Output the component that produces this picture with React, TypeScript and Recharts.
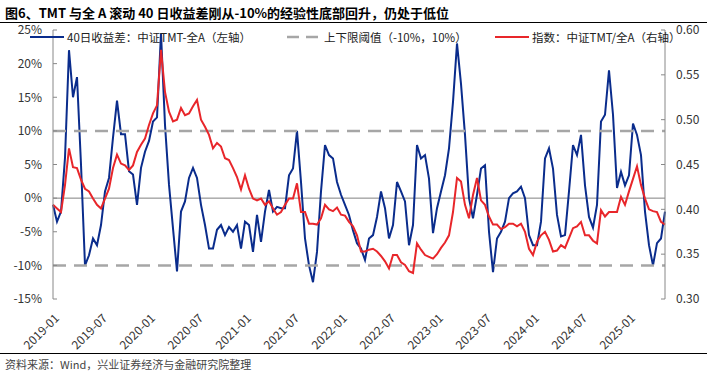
import { Line, LineChart, ReferenceLine, XAxis, YAxis } from 'recharts'

// semi-monthly points, Jan 2019 .. May 2025
const periods: string[] = []
for (let y = 2019; y <= 2025; y++) {
  for (let m = 1; m <= 12; m++) {
    if (y === 2025 && m > 5) break
    const mm = String(m).padStart(2, '0')
    periods.push(`${y}-${mm}-01`, `${y}-${mm}-16`)
  }
}

// 40-day return gap, TMT minus all-A (%), left axis
const gap = [
  -1.0, -3.5, -2.0, 6.0, 22.0, 15.0, 18.0, 5.0, -10.0, -8.5,
  -6.0, -7.0, -4.0, 1.0, 3.0, 9.0, 14.5, 9.5, 9.5, 4.0,
  3.5, -1.0, 4.5, 6.9, 8.5, 11.4, 12.0, 24.5, 10.9, 2.0,
  -4.5, -10.9, -2.0, -0.5, 3.0, 4.5, 3.0, -1.0, -4.0, -7.5,
  -7.5, -4.7, -4.0, -5.5, -4.3, -5.0, -4.0, -7.5, -3.5, -4.0,
  -8.0, -2.5, -6.5, -2.0, 1.2, -2.0, -1.3, -1.5, -1.5, 3.4,
  4.4, 10.0, 2.4, -6.0, -10.0, -12.5, -8.0, 1.0, 7.9, 6.4,
  5.9, 2.4, 0.5, -1.0, -2.5, -4.8, -6.7, -7.5, -9.2, -6.0,
  -5.5, -2.8, 1.0, -1.5, -6.0, -4.0, 2.4, 1.0, -0.5, -7.0,
  -4.0, 7.9, 5.9, 6.4, 2.9, -5.2, -1.5, 1.0, 3.4, 7.4,
  14.3, 23.0, 17.0, 9.4, 0.0, -3.0, 0.5, 4.4, 4.9, -5.0,
  -11.0, -6.0, -5.0, -3.5, 0.0, 0.7, 1.0, 1.7, 0.0, -5.5,
  -7.0, -7.0, -3.5, 5.9, 7.4, 4.4, -2.5, -5.7, -5.5, 1.0,
  7.9, 6.4, 9.4, 1.9, -2.8, -4.4, -1.0, 11.4, 12.4, 19.0,
  12.4, 1.5, 3.9, 1.9, 3.4, 11.1, 9.4, 6.4, -2.0, -7.0,
  -10.0, -6.7, -6.0, -2.0,
]

// index ratio TMT / all-A, right axis
const ratio = [
  0.405, 0.401, 0.397, 0.427, 0.468, 0.447, 0.446, 0.433, 0.423, 0.42,
  0.412, 0.405, 0.401, 0.412, 0.423, 0.446, 0.461, 0.451, 0.449, 0.444,
  0.449, 0.464, 0.472, 0.479, 0.494, 0.507, 0.516, 0.578, 0.531, 0.509,
  0.498, 0.5, 0.513, 0.505, 0.507, 0.515, 0.522, 0.5, 0.492, 0.483,
  0.468, 0.474, 0.47, 0.457, 0.455, 0.446, 0.436, 0.422, 0.438, 0.423,
  0.412, 0.41, 0.412, 0.405, 0.409, 0.401, 0.394, 0.397, 0.405, 0.412,
  0.412, 0.429, 0.397, 0.397, 0.384, 0.384, 0.383, 0.39, 0.405, 0.4,
  0.398, 0.402, 0.394, 0.393, 0.386, 0.381, 0.371, 0.353, 0.353, 0.355,
  0.356, 0.353, 0.348, 0.342, 0.334, 0.349, 0.349, 0.341, 0.338, 0.331,
  0.329, 0.362, 0.355, 0.349, 0.347, 0.345, 0.35, 0.357, 0.363, 0.371,
  0.397, 0.435, 0.431, 0.405, 0.39, 0.416, 0.435, 0.41, 0.405, 0.392,
  0.383, 0.383, 0.378, 0.38, 0.384, 0.384, 0.381, 0.384, 0.375, 0.356,
  0.349, 0.364, 0.371, 0.375, 0.366, 0.353, 0.354, 0.36, 0.357, 0.368,
  0.379, 0.381, 0.386, 0.371, 0.371, 0.365, 0.362, 0.399, 0.392, 0.397,
  0.397, 0.397, 0.414, 0.405, 0.42, 0.434, 0.448, 0.427, 0.412, 0.4,
  0.398, 0.397, 0.386, 0.383,
]

const leftTicks = [-15, -10, -5, 0, 5, 10, 15, 20, 25]
const rightTicks = [0.3, 0.35, 0.4, 0.45, 0.5, 0.55, 0.6]
const bands = [-10, 10]

const data = periods.map((date, i) => ({ date, gap: gap[i], ratio: ratio[i] }))

const FONT = '"Noto Sans CJK SC", "Noto Sans", sans-serif'
const BLUE = '#0A2C8C'
const RED = '#E8262A'
const DASH = '#A6A6A6'

function DateTick({ x, y, payload }: any) {
  return (
    <text
      transform={`translate(${x + 7},${y + 12}) rotate(-45)`}
      textAnchor="end"
      fontSize={12}
      fill="#333"
      fontFamily={FONT}
    >
      {String(payload.value).slice(0, 7)}
    </text>
  )
}

function LegendItem({ left, kind, label }: { left: number; kind: 'blue' | 'dash' | 'red'; label: string }) {
  return (
    <div style={{ position: 'absolute', top: 29, left, display: 'flex', alignItems: 'center', whiteSpace: 'nowrap' }}>
      <svg width={36} height={16}>
        <line
          x1={0}
          x2={34}
          y1={8}
          y2={8}
          stroke={kind === 'blue' ? BLUE : kind === 'red' ? RED : DASH}
          strokeWidth={kind === 'dash' ? 2.5 : 2}
          strokeDasharray={kind === 'dash' ? '12 7' : undefined}
        />
      </svg>
      <span style={{ fontSize: 11.5, color: '#222', marginLeft: 1 }}>{label}</span>
    </div>
  )
}

export default function App() {
  return (
    <div style={{ position: 'relative', width: 707, height: 372, background: '#fff', fontFamily: FONT }}>
      <style>{'body{margin:0}'}</style>
      <div style={{ position: 'absolute', top: 3, left: 5, fontSize: 13, fontWeight: 700, color: '#000', whiteSpace: 'nowrap' }}>
        图6、TMT 与全 A 滚动 40 日收益差刚从-10%的经验性底部回升，仍处于低位
      </div>
      <div style={{ position: 'absolute', top: 22, left: 0, width: 707, height: 1, background: '#000' }} />

      <div style={{ position: 'absolute', top: 0, left: 0 }}>
        <LineChart width={707} height={362} data={data} margin={{ top: 30, right: 0, bottom: 0, left: 0 }}>
          <XAxis
            dataKey="date"
            interval={11}
            axisLine={false}
            tickLine={false}
            height={63}
            tick={<DateTick />}
          />
          <YAxis
            yAxisId="left"
            domain={[-15, 25]}
            ticks={leftTicks}
            tickFormatter={(v) => v + '%'}
            width={53}
            tickSize={-4}
            tickMargin={15}
            axisLine={{ stroke: '#888' }}
            tickLine={{ stroke: '#888' }}
            tick={{ fontSize: 12, fill: '#333', fontFamily: FONT }}
          />
          <YAxis
            yAxisId="right"
            orientation="right"
            domain={[0.3, 0.6]}
            ticks={rightTicks}
            tickFormatter={(v) => v.toFixed(2)}
            width={42}
            tickSize={-4}
            tickMargin={15}
            axisLine={{ stroke: '#888' }}
            tickLine={{ stroke: '#888' }}
            tick={{ fontSize: 12, fill: '#333', fontFamily: FONT, textAnchor: 'start' }}
          />
          <ReferenceLine yAxisId="left" y={0} stroke="#808080" strokeWidth={1} />
          <Line
            yAxisId="left"
            dataKey="gap"
            stroke={BLUE}
            strokeWidth={2}
            dot={false}
            isAnimationActive={false}
          />
          {bands.map((b) => (
            <ReferenceLine key={b} yAxisId="left" y={b} stroke={DASH} strokeWidth={2.5} strokeDasharray="13 8" />
          ))}
          <Line
            yAxisId="right"
            dataKey="ratio"
            stroke={RED}
            strokeWidth={2}
            dot={false}
            isAnimationActive={false}
          />
        </LineChart>
      </div>

      <LegendItem left={30} kind="blue" label="40日收益差：中证TMT-全A（左轴）" />
      <LegendItem left={287} kind="dash" label="上下限阈值（-10%，10%）" />
      <LegendItem left={495} kind="red" label="指数：中证TMT/全A（右轴）" />

      <div style={{ position: 'absolute', top: 353, left: 0, width: 707, height: 1, background: '#000' }} />
      <div style={{ position: 'absolute', top: 356, left: 5, fontSize: 11, color: '#444', whiteSpace: 'nowrap' }}>
        资料来源：Wind，兴业证券经济与金融研究院整理
      </div>
    </div>
  )
}
